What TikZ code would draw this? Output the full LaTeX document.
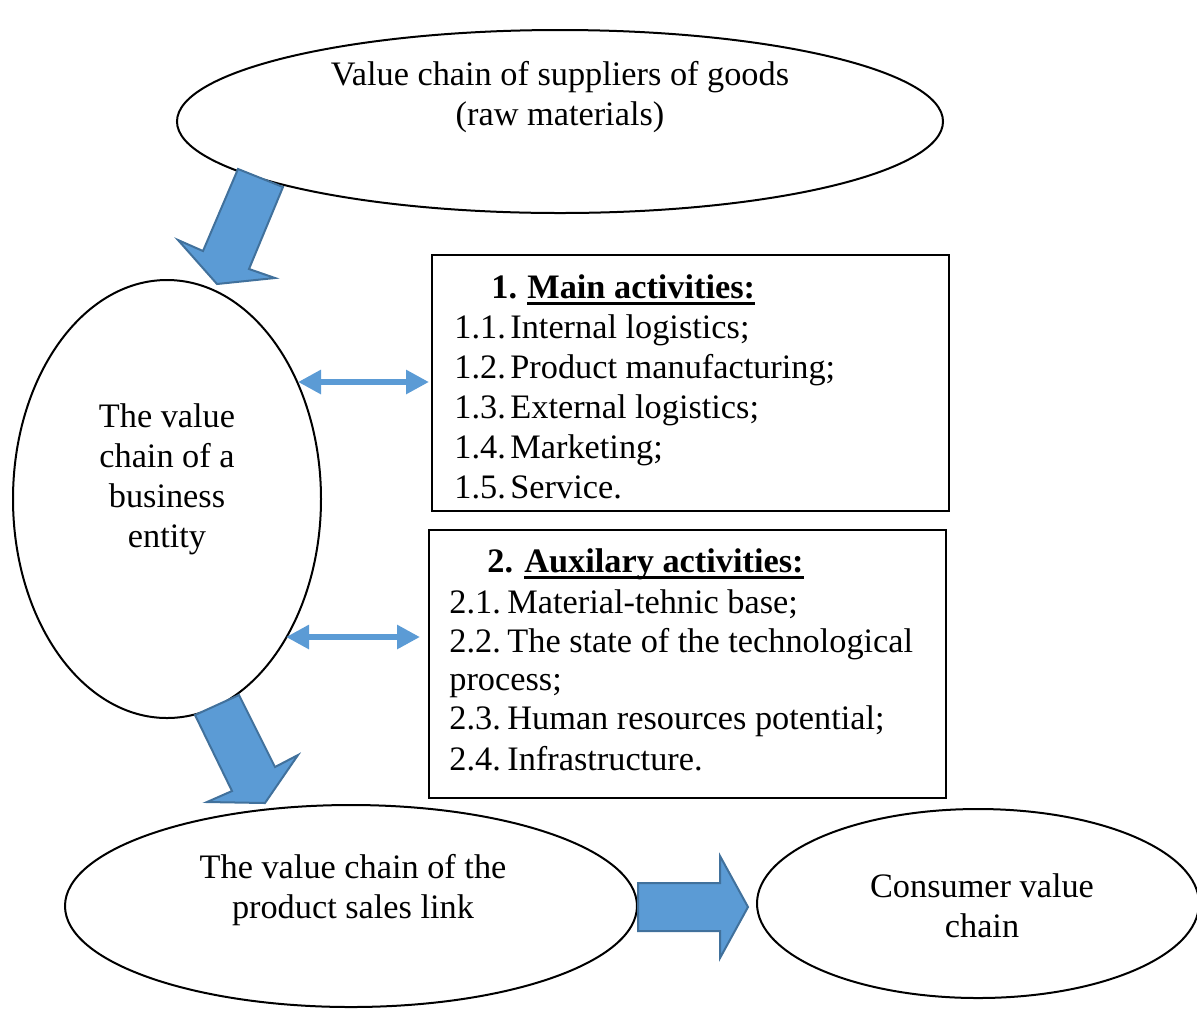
\documentclass[tikz,border=0pt]{standalone}
\usepackage{fontspec}
\setmainfont{Liberation Serif}
\usetikzlibrary{shapes.geometric,arrows.meta}
\definecolor{arrowblue}{HTML}{5B9BD5}
\definecolor{arrowedge}{HTML}{41719C}

\begin{document}
\begin{tikzpicture}[x=0.5pt,y=-0.5pt,
    font=\fontsize{17.15pt}{20pt}\selectfont,
    oval/.style={draw,ellipse,line width=1pt,inner sep=0pt},
    txt/.style={inner sep=0pt,align=center},
    item/.style={inner sep=0pt,anchor=base west},
    panel/.style={draw,line width=0.8pt,anchor=north west,inner sep=0pt},
    bigarrow/.style={fill=arrowblue,draw=arrowedge,line width=1pt,line join=miter},
    twoway/.style={arrowblue,line width=3pt,{Triangle[width=11.5pt,length=11.5pt]}-{Triangle[width=11.5pt,length=11.5pt]}}]
  \useasboundingbox (0,0) rectangle (1197,1008);
  % ovals
  \node[oval,minimum width=383pt,minimum height=91.5pt](supp)at(560,121.5){};
  \node[oval,minimum width=154pt,minimum height=219pt](firm)at(167,499){};
  \node[oval,minimum width=286pt,minimum height=101pt](sales)at(351,906){};
  \node[oval,minimum width=221pt,minimum height=94.5pt](cons)at(978,903.5){};
  \node[txt](supptext)at(560,97){Value chain of suppliers of goods\\(raw materials)};
  \node[txt](firmtext)at(167,479){The value\\chain of a\\business\\entity};
  \node[txt](salestext)at(353,890){The value chain of the\\product sales link};
  \node[txt](constext)at(982,906){Consumer value\\chain};
  % main activities
  \node[panel,minimum width=258.5pt,minimum height=128pt](mainbox)at(431,254){};
  \node[item](mainno)at(491,298){\bfseries 1.};
  \node[item](mainh)at(527,298){\bfseries Main activities:};
  \draw[line width=1.5pt]([yshift=-2.75pt]mainh.base west)--([yshift=-2.75pt]mainh.base east);
  \foreach \y/\lbl/\itm [count=\i] in {338/1.1./{Internal logistics;},378/1.2./{Product manufacturing;},
      418/1.3./{External logistics;},458/1.4./{Marketing;},498/1.5./{Service.}}
    {\node[item](mainno\i)at(454,\y){\lbl};
     \node[item](main\i)at(510,\y){\itm};}
  % auxilary activities
  \node[panel,minimum width=258.5pt,minimum height=134pt](auxbox)at(428,529){};
  \node[item](auxno)at(487,572){\bfseries 2.};
  \node[item](auxh)at(524,572){\bfseries Auxilary activities:};
  \draw[line width=1.5pt]([yshift=-2.75pt]auxh.base west)--([yshift=-2.75pt]auxh.base east);
  \foreach \y/\lbl/\itm [count=\i] in {613/2.1./{Material-tehnic base;},652/2.2./{The state of the technological},
      729/2.3./{Human resources potential;},770/2.4./{Infrastructure.}}
    {\node[item](auxno\i)at(449,\y){\lbl};
     \node[item](aux\i)at(507,\y){\itm};}
  \node[item](auxwrap)at(449,690){process;};
  % links
  \coordinate(l1)at(298,382); \coordinate(r1)at(429,382);
  \coordinate(l2)at(286,637); \coordinate(r2)at(420,637);
  \draw[twoway](l1)--(r1);
  \draw[twoway](l2)--(r2);
  \draw[bigarrow](238,169)--(283,187)--(249,269)--(275,278)--(217,284)--(178,240)--(203,251)--cycle;
  \draw[bigarrow](195,715)--(239,695)--(275,767)--(298,755)--(265,803)--(207,802)--(232,791)--cycle;
  \draw[bigarrow](638,883)--(720,883)--(720,856)--(748,907)--(720,958)--(720,931)--(638,931)--cycle;
\end{tikzpicture}
\end{document}
